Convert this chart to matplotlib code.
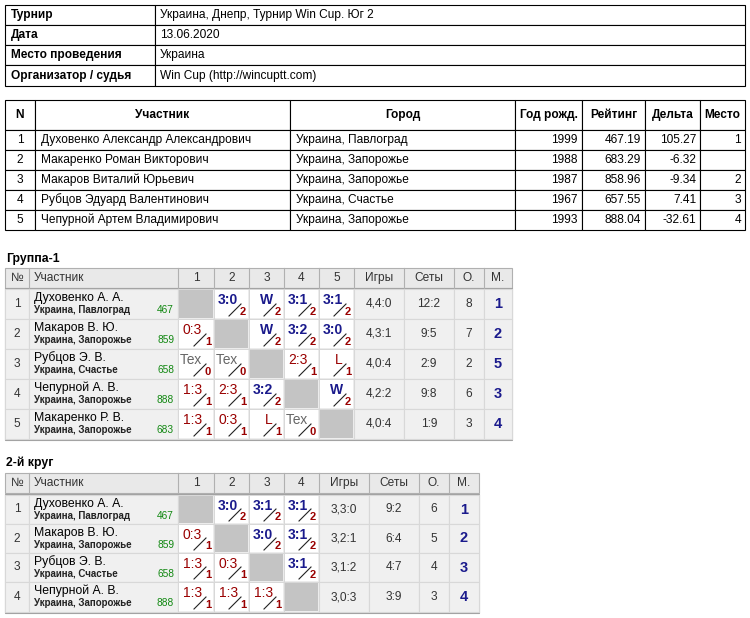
import matplotlib
matplotlib.use("Agg")
import matplotlib.pyplot as plt
from matplotlib.patches import Rectangle

plt.rcParams['font.family'] = ['Liberation Sans', 'DejaVu Sans']

info_labels = ["Турнир", "Дата", "Место проведения", "Организатор / судья"]
info_values = ["Украина, Днепр, Турнир Win Cup. Юг 2", "13.06.2020", "Украина", "Win Cup (http://wincuptt.com)"]

main_header = ["N", "Участник", "Город", "Год рожд.", "Рейтинг", "Дельта", "Место"]
main_n = ["1", "2", "3", "4", "5"]
main_names = ["Духовенко Александр Александрович", "Макаренко Роман Викторович", "Макаров Виталий Юрьевич",
              "Рубцов Эдуард Валентинович", "Чепурной Артем Владимирович"]
main_city = ["Украина, Павлоград", "Украина, Запорожье", "Украина, Запорожье", "Украина, Счастье", "Украина, Запорожье"]
main_year = ["1999", "1988", "1987", "1967", "1993"]
main_rating = ["467.19", "683.29", "858.96", "657.55", "888.04"]
main_delta = ["105.27", "-6.32", "-9.34", "7.41", "-32.61"]
main_place = ["1", "", "2", "3", "4"]

g1_names = ["Духовенко А. А.", "Макаров В. Ю.", "Рубцов Э. В.", "Чепурной А. В.", "Макаренко Р. В."]
g1_cities = ["Украина, Павлоград", "Украина, Запорожье", "Украина, Счастье", "Украина, Запорожье", "Украина, Запорожье"]
g1_ratings = ["467", "859", "658", "888", "683"]
g1_scores = [[None, "3:0", "W", "3:1", "3:1"],
             ["0:3", None, "W", "3:2", "3:0"],
             ["Тех", "Тех", None, "2:3", "L"],
             ["1:3", "2:3", "3:2", None, "W"],
             ["1:3", "0:3", "L", "Тех", None]]
g1_games = ["4,4:0", "4,3:1", "4,0:4", "4,2:2", "4,0:4"]
g1_sets = ["12:2", "9:5", "2:9", "9:8", "1:9"]
g1_points = ["8", "7", "2", "6", "3"]
g1_places = ["1", "2", "5", "3", "4"]

g2_names = ["Духовенко А. А.", "Макаров В. Ю.", "Рубцов Э. В.", "Чепурной А. В."]
g2_cities = ["Украина, Павлоград", "Украина, Запорожье", "Украина, Счастье", "Украина, Запорожье"]
g2_ratings = ["467", "859", "658", "888"]
g2_scores = [[None, "3:0", "3:1", "3:1"],
             ["0:3", None, "3:0", "3:1"],
             ["1:3", "0:3", None, "3:1"],
             ["1:3", "1:3", "1:3", None]]
g2_games = ["3,3:0", "3,2:1", "3,1:2", "3,0:3"]
g2_sets = ["9:2", "6:4", "4:7", "3:9"]
g2_points = ["6", "5", "4", "3"]
g2_places = ["1", "2", "3", "4"]

W, H = 750, 618
fig = plt.figure(figsize=(W / 100, H / 100), dpi=100)
ax = fig.add_axes([0, 0, 1, 1])
ax.set_xlim(0, W)
ax.set_ylim(H, 0)
ax.axis('off')

def rect(x0, y0, x1, y1, fc='white', ec='black', lw=0.8):
    ax.add_patch(Rectangle((x0, y0), x1 - x0, y1 - y0, fc=fc, ec=ec, lw=lw))

def txt(x, y, s, ha='left', size=8.6, **kw):
    ax.text(x, y, s, ha=ha, va='center', fontsize=size, **kw)

# info table
iy = [5, 25, 45, 65, 86]
ix = [5, 155, 745]
for i in range(4):
    rect(ix[0], iy[i], ix[1], iy[i + 1])
    rect(ix[1], iy[i], ix[2], iy[i + 1])
    ym = (iy[i] + iy[i + 1]) / 2
    txt(ix[0] + 6, ym, info_labels[i], weight='bold')
    txt(ix[1] + 5, ym, info_values[i])

# main table
mx = [5, 35, 290, 515, 582, 645, 700, 745]
my = [100, 130, 150, 170, 190, 210, 230]
for c in range(7):
    rect(mx[c], my[0], mx[c + 1], my[1])
    txt((mx[c] + mx[c + 1]) / 2, (my[0] + my[1]) / 2, main_header[c], ha='center', weight='bold')
cols = [main_n, main_names, main_city, main_year, main_rating, main_delta, main_place]
aligns = ['center', 'left', 'left', 'right', 'right', 'right', 'right']
for r in range(5):
    ym = (my[r + 1] + my[r + 2]) / 2
    for c in range(7):
        rect(mx[c], my[r + 1], mx[c + 1], my[r + 2])
        if aligns[c] == 'center':
            x = (mx[c] + mx[c + 1]) / 2
        elif aligns[c] == 'left':
            x = mx[c] + 6
        else:
            x = mx[c + 1] - 4
        txt(x, ym, cols[c][r], ha=aligns[c])

NAVY = '#1a1a8c'
RED = '#990000'
GRAY = '#666666'
GRID = '#d8d8d8'

def group(title, ty, hy0, hy1, rows_y, xs, names, cities, ratings, scores, games, sets, points, places):
    n = len(names)
    txt(6, ty, title, weight='bold', size=8.8)
    x0, x1 = xs[0], xs[-1]
    rect(x0, hy0, x1, hy1, fc='#e9e9e9', ec='#b0b0b0', lw=0.8)
    heads = ["№", "Участник"] + [str(i + 1) for i in range(n)] + ["Игры", "Сеты", "О.", "М."]
    for c in range(len(xs) - 1):
        if c > 0:
            ax.plot([xs[c], xs[c]], [hy0, hy1], color='#b0b0b0', lw=0.8)
        if c == 1:
            txt(xs[c] + 5, (hy0 + hy1) / 2, heads[c], color='#333333')
        else:
            txt((xs[c] + xs[c + 1]) / 2, (hy0 + hy1) / 2, heads[c], ha='center', color='#333333')
    rect(x0, rows_y[0] - 1, x1, rows_y[-1] + 1, fc='#f0f0f0', ec='#a0a0a0', lw=0.8)
    for r in range(n):
        ya, yb = rows_y[r], rows_y[r + 1]
        ym = (ya + yb) / 2
        for c in range(len(xs) - 1):
            rect(xs[c], ya, xs[c + 1], yb, fc='#f0f0f0', ec=GRID, lw=0.8)
        txt((xs[0] + xs[1]) / 2, ym, str(r + 1), ha='center', color='#333333')
        txt(xs[1] + 5, ya + 9, names[r], size=8.8)
        txt(xs[1] + 5, ya + 21, cities[r], size=7, weight='bold', color='#222222')
        txt(xs[2] - 4, ya + 21, ratings[r], ha='right', size=7.3, color='#118811')
        for j in range(n):
            cx0, cx1 = xs[2 + j], xs[3 + j]
            s = scores[r][j]
            if s is None:
                rect(cx0 + 1, ya + 1, cx1 - 1, yb - 1, fc='#c4c4c4', ec='none')
                continue
            rect(cx0 + 1, ya + 1, cx1 - 1, yb - 1, fc='white', ec='none')
            if s == "Тех":
                col, wt, small = GRAY, 'normal', "0"
            elif s == "W" or (s[0] > s[-1] and s != "L"):
                col, wt, small = NAVY, 'bold', "2"
            else:
                col, wt, small = RED, 'normal', "1"
            txt(cx0 + 24, ya + 11, s, ha='right', size=10, color=col, weight=wt)
            ax.plot([cx1 - 20, cx1 - 8], [yb - 3, yb - 15], color='#222222', lw=0.8)
            txt(cx1 - 3, yb - 7, small, ha='right', size=8, color=RED, weight='bold')
        k = 2 + n
        for val, cc in zip([games[r], sets[r], points[r]], range(k, k + 3)):
            txt((xs[cc] + xs[cc + 1]) / 2, ym, val, ha='center', color='#333333')
        txt((xs[k + 3] + xs[k + 4]) / 2, ym, places[r], ha='center', size=10.5, weight='bold', color=NAVY)

g1x = [5, 29, 178, 214, 249, 284, 319, 354, 404, 454, 484, 512]
group("Группа-1", 259, 268, 288, [289, 319, 349, 379, 409, 439], g1x,
      g1_names, g1_cities, g1_ratings, g1_scores, g1_games, g1_sets, g1_points, g1_places)
g2x = [5, 29, 178, 214, 249, 284, 319, 369, 419, 449, 479]
group("2-й круг", 463, 473, 493, [495, 524, 553, 582, 612], g2x,
      g2_names, g2_cities, g2_ratings, g2_scores, g2_games, g2_sets, g2_points, g2_places)

fig.savefig("out.png", dpi=100, facecolor='white')
